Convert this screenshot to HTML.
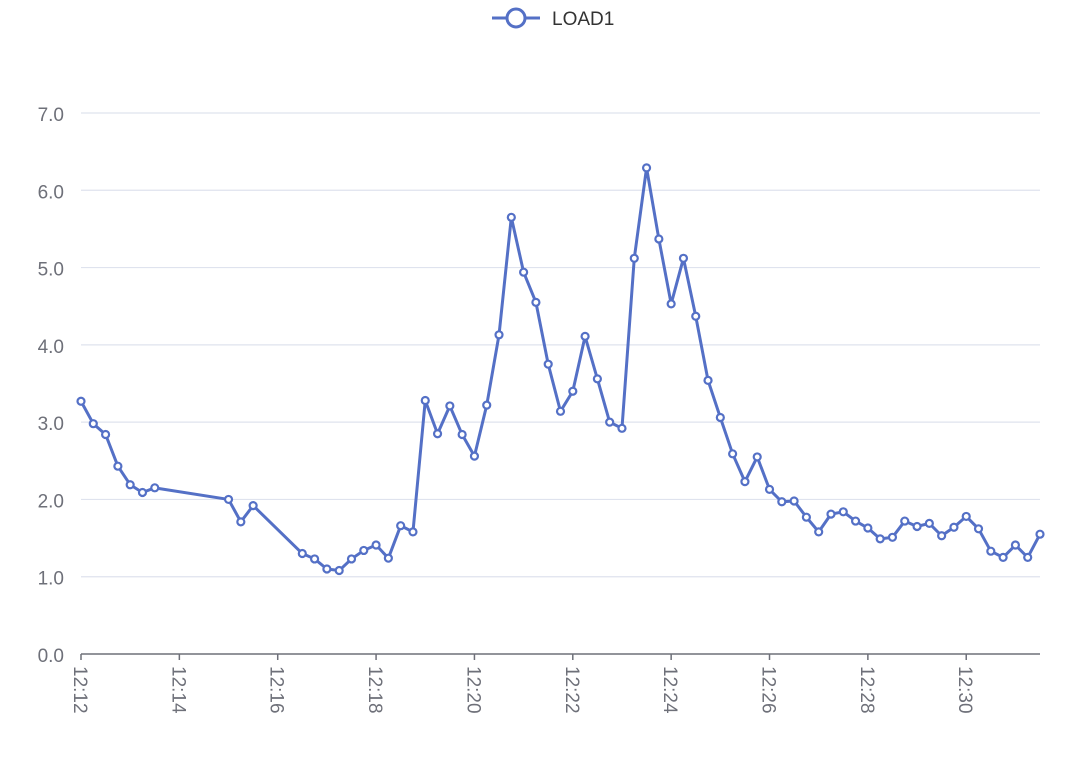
<!DOCTYPE html>
<html><head><meta charset="utf-8">
<style>
html,body{margin:0;padding:0;background:#fff;}
svg{display:block;font-family:"Liberation Sans",sans-serif;}
</style></head>
<body>
<svg id="chart" width="1076" height="758" viewBox="0 0 1076 758">
  <g id="legend">
    <line x1="492" y1="18" x2="540" y2="18" stroke="#5470c6" stroke-width="3"/>
    <circle cx="516" cy="18" r="9" fill="#fff" stroke="#5470c6" stroke-width="3"/>
    <text x="552" y="25" font-size="19" fill="#333">LOAD1</text>
  </g>
  <g id="grid"></g>
  <g id="axes"></g>
  <g id="series"></g>
</svg>
<script>
const times = ["12:12:00","12:12:15","12:12:30","12:12:45","12:13:00","12:13:15","12:13:30",
"12:15:00","12:15:15","12:15:30",
"12:16:30","12:16:45","12:17:00","12:17:15","12:17:30","12:17:45","12:18:00","12:18:15","12:18:30","12:18:45",
"12:19:00","12:19:15","12:19:30","12:19:45","12:20:00","12:20:15","12:20:30","12:20:45","12:21:00","12:21:15",
"12:21:30","12:21:45","12:22:00","12:22:15","12:22:30","12:22:45","12:23:00","12:23:15","12:23:30","12:23:45",
"12:24:00","12:24:15","12:24:30","12:24:45","12:25:00","12:25:15","12:25:30","12:25:45","12:26:00","12:26:15",
"12:26:30","12:26:45","12:27:00","12:27:15","12:27:30","12:27:45","12:28:00","12:28:15","12:28:30","12:28:45",
"12:29:00","12:29:15","12:29:30","12:29:45","12:30:00","12:30:15","12:30:30","12:30:45","12:31:00","12:31:15","12:31:30"];
const load1 = [3.27,2.98,2.84,2.43,2.19,2.09,2.15,
2.00,1.71,1.92,
1.30,1.23,1.10,1.08,1.23,1.34,1.41,1.24,1.66,1.58,
3.28,2.85,3.21,2.84,2.56,3.22,4.13,5.65,4.94,4.55,
3.75,3.14,3.40,4.11,3.56,3.00,2.92,5.12,6.29,5.37,
4.53,5.12,4.37,3.54,3.06,2.59,2.23,2.55,2.13,1.97,
1.98,1.77,1.58,1.81,1.84,1.72,1.63,1.49,1.51,1.72,
1.65,1.69,1.53,1.64,1.78,1.62,1.33,1.25,1.41,1.25,1.55];
const yTicks = [0,1,2,3,4,5,6,7];
const xTickLabels = ["12:12","12:14","12:16","12:18","12:20","12:22","12:24","12:26","12:28","12:30"];

const NS="http://www.w3.org/2000/svg";
const X0=81, X1=1040, Y0=654, Y7=113;
const tMin=12*3600+12*60, tMax=12*3600+31*60+30;
function toSec(s){const p=s.split(":").map(Number);return p[0]*3600+p[1]*60+(p[2]||0);}
function xs(s){return X0+(toSec(s)-tMin)/(tMax-tMin)*(X1-X0);}
function ys(v){return Y0-v/7*(Y0-Y7);}
function el(tag,attrs,parent){const e=document.createElementNS(NS,tag);for(const k in attrs)e.setAttribute(k,attrs[k]);parent.appendChild(e);return e;}

const grid=document.getElementById('grid'), axes=document.getElementById('axes'), series=document.getElementById('series');
yTicks.forEach(v=>{
  if(v>0){const g=el('line',{x1:X0,x2:X1,y1:ys(v),y2:ys(v),stroke:'#dfe3ee','stroke-width':1.2},grid);
  
  }
  const t=el('text',{x:64,y:ys(v)+8,'text-anchor':'end','font-size':19,fill:'#6e7079'},axes);
  t.textContent=v.toFixed(1);
  
  
});
const ax=el('line',{x1:X0,x2:X1,y1:Y0,y2:Y0,stroke:'#6e7079','stroke-width':1.5},axes);


xTickLabels.forEach(l=>{
  const x=xs(l+":00");
  const tk=el('line',{x1:x,x2:x,y1:Y0,y2:Y0+6,stroke:'#6e7079','stroke-width':1.5},axes);
  
  
  const t=el('text',{x:0,y:0,'font-size':19,fill:'#6e7079',transform:`translate(${x-7},${Y0+12}) rotate(90)`},axes);
  t.textContent=l;
  
  
});
const pts=times.map((t,i)=>[xs(t),ys(load1[i])]);
const pl=el('polyline',{points:pts.map(p=>p.join(',')).join(' '),fill:'none',stroke:'#5470c6','stroke-width':3,'stroke-linejoin':'round'},series);


pts.forEach(p=>{
  const c=el('circle',{cx:p[0],cy:p[1],r:3.5,fill:'#fff',stroke:'#5470c6','stroke-width':2.2},series);
  
  
});
</script>
</body></html>
